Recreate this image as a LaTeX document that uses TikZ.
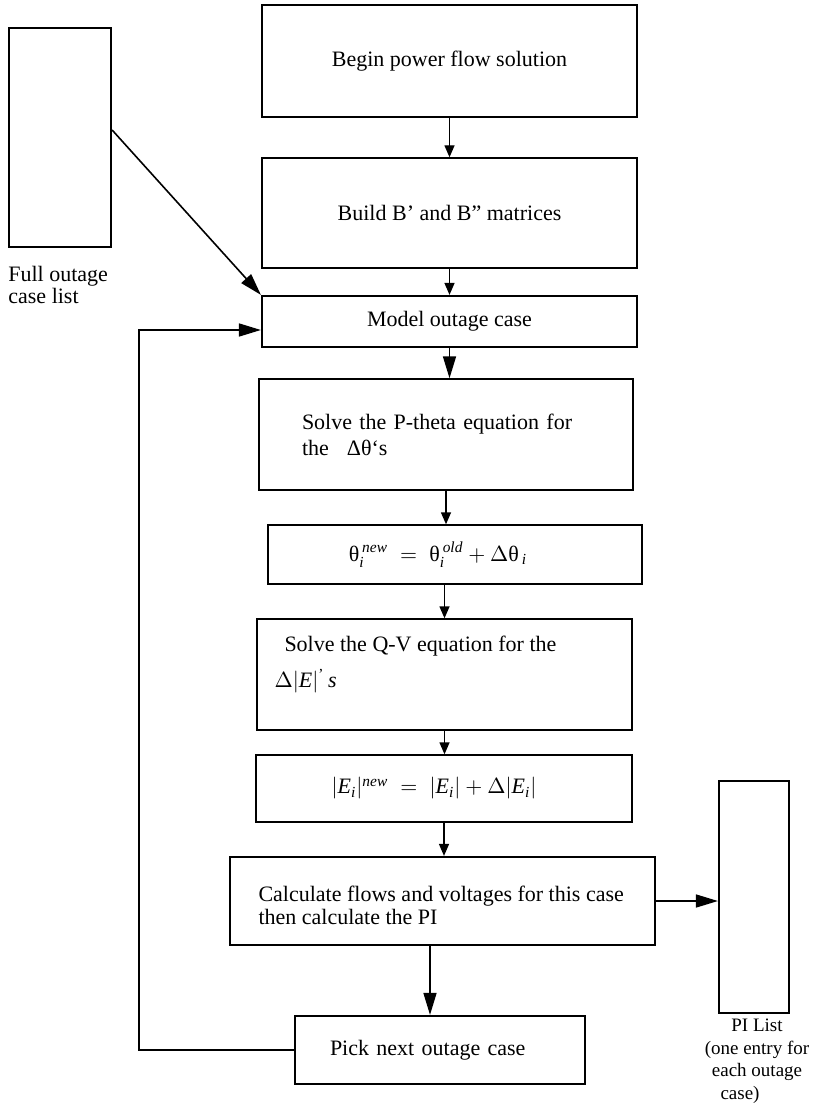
\documentclass[tikz,border=0pt]{standalone}
\usepackage{fontspec}
\usepackage{amsmath}
\setmainfont{Liberation Serif}
\usetikzlibrary{arrows.meta,calc}
\newcommand{\BoxFont}{\fontsize{11}{13}\selectfont}
\newcommand{\Vr}[1]{\mathit{#1}}

\begin{document}
\begin{tikzpicture}[x=0.5pt,y=-0.5pt,
  flowbox/.style={draw,line width=0.7pt,inner sep=2pt,font=\BoxFont},
  heavybox/.style={flowbox,line width=1.1pt},
  smallarr/.style={line width=0.7pt,-{Triangle[length=6pt,width=5pt]}},
  bigarr/.style={line width=0.8pt,-{Triangle[length=11pt,width=6.5pt]}}]
\useasboundingbox (0,0) rectangle (814,1112);
% lists at the sides
\node[heavybox,minimum width=51pt,minimum height=109.5pt] (caselist) at (60,137.5) {};
\node[anchor=north west,align=left,inner sep=0pt,font=\fontsize{11}{10}\selectfont] (caselabel) at (8,266) {Full outage\\case list};
\node[heavybox,minimum width=35pt,minimum height=116pt] (pilist) at (754,897) {};
\node[anchor=north,align=center,inner sep=0pt,font=\fontsize{9.5}{11.2}\selectfont] (pilabel) at (757,1019) {PI List\\(one entry for\\each outage\\\hspace*{-17pt}case)};
% main column
\node[flowbox,minimum width=187.5pt,minimum height=56pt] (begin) at (449.5,61) {Begin power flow solution};
\node[flowbox,minimum width=187.5pt,minimum height=55pt] (build) at (449.5,213) {Build B’ and B” matrices};
\node[heavybox,minimum width=187.5pt,minimum height=25.5pt] (model) at (449.5,321.5) {Model outage case};
\node[flowbox,minimum width=187pt,minimum height=55.5pt,text width=144pt,align=left] (ptheta) at (446,434.5) {Solve the P-theta equation for\\the\hspace{9pt}Δθ‘s};
\node[flowbox,minimum width=187pt,minimum height=29.5pt] (thetaupd) at (455,554.5) {\hspace*{-17pt}$\text{θ}_{\Vr{i}}^{\,\Vr{new}} \;=\; \text{θ}_{\Vr{i}}^{\,\Vr{old}} + \Delta\text{θ}_{\,\Vr{i}}$};
\node[flowbox,minimum width=187.5pt,minimum height=55.5pt] (qv) at (444.5,674.5) {\raisebox{5pt}[\height][\depth]{\parbox{160pt}{\raggedright Solve the Q-V equation for the\\[5pt]\hspace*{-5pt}$\Delta|\Vr{E}|^{\text{'}}\,\Vr{s}$}}};
\node[flowbox,minimum width=188pt,minimum height=33.5pt] (evolt) at (444,788.5) {\hspace*{-10pt}$|\Vr{E}_{\Vr{i}}|^{\Vr{new}} \;=\; |\Vr{E}_{\Vr{i}}| + \Delta|\Vr{E}_{\Vr{i}}|$};
\node[heavybox,minimum width=212.5pt,minimum height=44pt,font=\fontsize{11}{11.5}\selectfont] (flows) at (442.5,901) {\raisebox{-2pt}[\height][\depth]{\parbox{184pt}{\raggedright Calculate flows and voltages for this case\\then calculate the PI}}};
\node[heavybox,minimum width=145pt,minimum height=34pt,text width=110pt,align=left] (pick) at (440,1050) {Pick next outage case};
% connectors
\draw[smallarr] (begin.south) -- (build.north);
\draw[smallarr] (build.south) -- (model.north);
\draw[bigarr] (model.south) -- (model.south |- ptheta.north);
\draw[smallarr] (ptheta.south) -- (ptheta.south |- thetaupd.north);
\draw[smallarr] (thetaupd.south -| qv.north) -- (qv.north);
\draw[smallarr] (qv.south) -- (qv.south |- evolt.north);
\draw[smallarr] (evolt.south) -- (evolt.south |- flows.north);
\draw[bigarr] ([xshift=-6.25pt]flows.south) -- ([xshift=-6.25pt]flows.south |- pick.north);
\draw[bigarr] (flows.east) -- (flows.east -| pilist.west);
\draw[bigarr] ([yshift=3.75pt]caselist.east) -- (model.north west);
\draw[bigarr] (pick.west) -- ++(-155,0) |- ([yshift=-4.25pt]model.west);
\end{tikzpicture}
\end{document}
